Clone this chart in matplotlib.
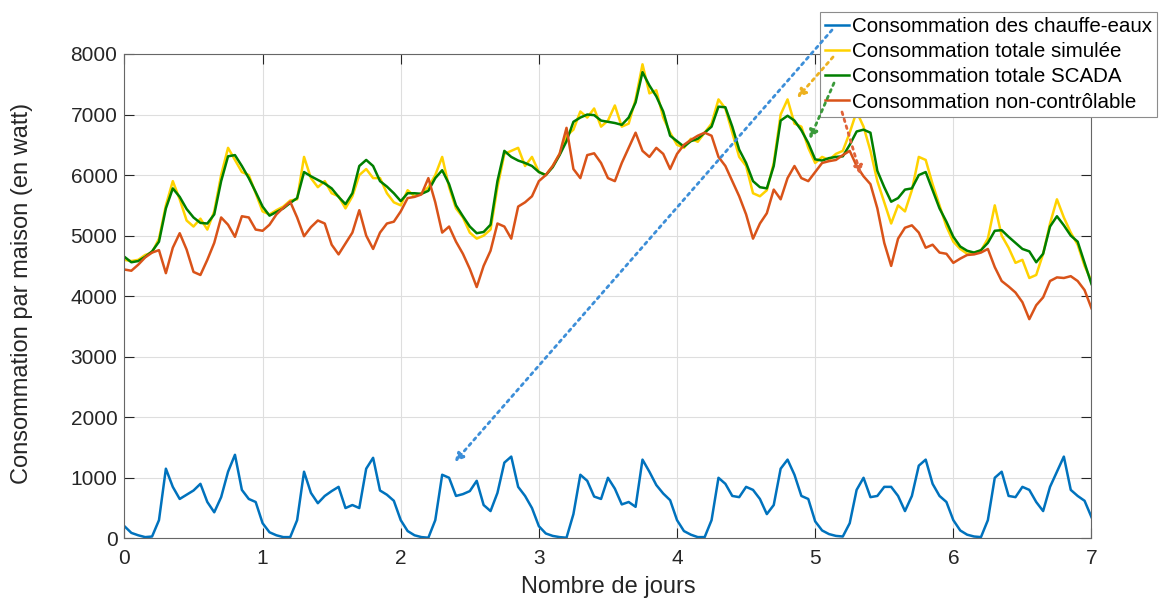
import numpy as np
import matplotlib
matplotlib.use("Agg")
import matplotlib.pyplot as plt

plt.rcParams['font.family'] = ['Liberation Sans', 'DejaVu Sans']

# Consommation moyenne par maison (W), un point toutes les 0,05 journée
step = 0.05

chauffe_eaux = [
    200, 90, 50, 20, 30, 300, 1150, 850, 650, 720, 790, 900, 600, 430, 680, 1100, 1380, 800, 650, 600,
    250, 100, 50, 20, 20, 300, 1100, 750, 580, 700, 780, 850, 500, 550, 500, 1150, 1330, 790, 720, 620,
    300, 120, 50, 20, 10, 300, 1050, 1000, 700, 730, 780, 950, 550, 450, 750, 1250, 1350, 850, 700, 500,
    200, 80, 40, 20, 10, 400, 1050, 950, 690, 650, 1000, 820, 560, 600, 520, 1300, 1100, 880, 740, 630,
    300, 120, 60, 20, 20, 300, 1000, 900, 700, 680, 850, 800, 650, 400, 550, 1150, 1300, 1050, 700, 650,
    280, 130, 70, 40, 30, 250, 800, 1000, 680, 700, 850, 850, 700, 450, 700, 1200, 1300, 900, 700, 600,
    300, 130, 60, 30, 20, 300, 1000, 1100, 700, 680, 850, 800, 600, 450, 850, 1100, 1350, 800, 700, 620,
    350,
]

totale_simulee = [
    4600, 4580, 4600, 4680, 4720, 4950, 5500, 5900, 5600, 5250, 5150, 5280, 5100, 5400, 6000, 6450, 6250, 6050, 6000, 5700,
    5400, 5350, 5420, 5480, 5580, 5600, 6300, 5950, 5800, 5900, 5700, 5650, 5450, 5650, 6000, 6100, 5950, 5950, 5700, 5550,
    5500, 5750, 5650, 5700, 5800, 6000, 6300, 5800, 5450, 5300, 5050, 4950, 5000, 5100, 5800, 6350, 6400, 6450, 6150, 6300,
    6050, 6000, 6150, 6350, 6650, 6750, 7050, 6950, 7100, 6800, 6900, 7150, 6800, 6850, 7250, 7830, 7350, 7400, 6950, 6700,
    6500, 6450, 6600, 6550, 6700, 6850, 7250, 7100, 6700, 6300, 6150, 5700, 5650, 5750, 6200, 7000, 7250, 6850, 6800, 6450,
    6200, 6300, 6250, 6350, 6400, 6700, 7050, 6800, 6400, 5900, 5550, 5200, 5500, 5400, 5750, 6300, 6250, 5850, 5500, 5150,
    4900, 4780, 4700, 4720, 4750, 4950, 5500, 5000, 4800, 4550, 4600, 4300, 4350, 4700, 5200, 5600, 5300, 5050, 4850, 4500,
    4250,
]

totale_scada = [
    4650, 4560, 4580, 4650, 4740, 4900, 5450, 5780, 5640, 5440, 5300, 5210, 5200, 5350, 5900, 6310, 6330, 6150, 5950, 5720,
    5480, 5330, 5390, 5450, 5540, 5620, 6050, 5980, 5920, 5860, 5780, 5640, 5520, 5700, 6150, 6250, 6150, 5900, 5810, 5700,
    5570, 5700, 5700, 5690, 5740, 5950, 6080, 5850, 5500, 5320, 5150, 5040, 5060, 5180, 5900, 6400, 6300, 6240, 6200, 6150,
    6050, 6000, 6130, 6330, 6560, 6880, 6950, 7000, 6990, 6900, 6880, 6860, 6830, 6950, 7200, 7700, 7480, 7300, 7050, 6650,
    6560, 6470, 6560, 6600, 6700, 6800, 7130, 7120, 6800, 6420, 6200, 5900, 5800, 5780, 6150, 6900, 6980, 6900, 6740, 6530,
    6260, 6240, 6280, 6300, 6310, 6500, 6720, 6750, 6700, 6070, 5800, 5560, 5620, 5760, 5780, 6000, 6050, 5750, 5450, 5230,
    4980, 4820, 4750, 4720, 4760, 4880, 5080, 5090, 4980, 4880, 4780, 4740, 4560, 4700, 5150, 5320, 5170, 5000, 4900, 4550,
    4200,
]

non_controlable = [
    4440, 4420, 4520, 4640, 4720, 4760, 4380, 4800, 5040, 4770, 4400, 4350, 4600, 4880, 5300, 5180, 4980, 5320, 5300, 5100,
    5080, 5180, 5350, 5460, 5560, 5300, 4990, 5140, 5250, 5200, 4850, 4690, 4870, 5050, 5420, 5000, 4780, 5050, 5200, 5230,
    5400, 5620, 5640, 5680, 5950, 5550, 5050, 5150, 4900, 4700, 4450, 4150, 4500, 4750, 5200, 5150, 4950, 5480, 5550, 5650,
    5900, 6000, 6150, 6350, 6780, 6100, 5950, 6330, 6360, 6200, 5950, 5900, 6200, 6450, 6700, 6400, 6300, 6450, 6350, 6100,
    6350, 6500, 6580, 6650, 6700, 6650, 6300, 6150, 5900, 5650, 5350, 4950, 5200, 5370, 5760, 5600, 5950, 6150, 5950, 5900,
    6050, 6200, 6230, 6250, 6330, 6400, 6150, 5980, 5850, 5450, 4880, 4500, 4950, 5130, 5170, 5050, 4800, 4850, 4720, 4700,
    4550, 4620, 4680, 4690, 4720, 4780, 4480, 4250, 4160, 4060, 3900, 3620, 3850, 3980, 4250, 4310, 4300, 4330, 4250, 4100,
    3800,
]

series = [chauffe_eaux, totale_simulee, totale_scada, non_controlable]
labels = [
    "Consommation des chauffe-eaux",
    "Consommation totale simulée",
    "Consommation totale SCADA",
    "Consommation non-contrôlable",
]
colors = ['#0072BD', '#FFD200', '#007F00', '#D95319']
arrow_colors = ['#3C8ED8', '#EDB120', '#3A9A3A', '#E0633A']

# pointe de chaque flèche (jour, watt) et départ depuis la légende (fraction de figure)
arrow_tips = [(2.39, 1260), (4.87, 7275), (4.96, 6595), (5.33, 6005)]
arrow_tails = [(0.7154, 0.9498), (0.7163, 0.9047), (0.7171, 0.8612), (0.7240, 0.8127)]

fig = plt.figure(figsize=(11.63, 5.98), dpi=100)
ax = fig.add_axes([0.107, 0.0998, 0.8315, 0.8099])

for values, label, color in zip(series, labels, colors):
    days = np.arange(len(values)) * step
    ax.plot(days, values, color=color, lw=1.8, label=label)

ax.set_xlim(0, 7)
ax.set_ylim(0, 8000)
ax.set_xticks(range(0, 8))
ax.set_yticks(range(0, 8001, 1000))
ax.grid(True, color='#dedede', lw=0.8)
ax.set_axisbelow(True)
ax.tick_params(direction='in', length=7, width=0.8, top=True, right=True,
               labelsize=15, colors='#262626')
ax.tick_params(axis='x', pad=8)
ax.tick_params(axis='y', pad=5)
for spine in ax.spines.values():
    spine.set_color('#666666')
    spine.set_linewidth(0.8)

ax.set_xlabel("Nombre de jours", fontsize=17, color='#262626')
ax.set_ylabel("Consommation par maison (en watt)", fontsize=17, color='#262626')
ax.xaxis.set_label_coords(0.5, -0.077)
ax.yaxis.set_label_coords(-0.0947, 0.506)

leg = ax.legend(loc='upper left', bbox_to_anchor=(820 / 1163, 1 - 12 / 598),
                bbox_transform=fig.transFigure, fontsize=14.8, fancybox=False,
                edgecolor='#8c8c8c', framealpha=1, handlelength=1.15,
                handletextpad=0.15, labelspacing=0.3, borderpad=0.25,
                borderaxespad=0)
leg.get_frame().set_linewidth(0.8)

for tip, tail, color in zip(arrow_tips, arrow_tails, arrow_colors):
    ax.annotate('', xy=tip, xycoords='data', xytext=tail, textcoords='figure fraction',
                arrowprops=dict(arrowstyle='-|>,head_length=0.5,head_width=0.25',
                                color=color, lw=2, linestyle=(0, (1, 1.6)),
                                shrinkA=0, shrinkB=0),
                zorder=10, annotation_clip=False)

fig.savefig("out.png", dpi=100)
